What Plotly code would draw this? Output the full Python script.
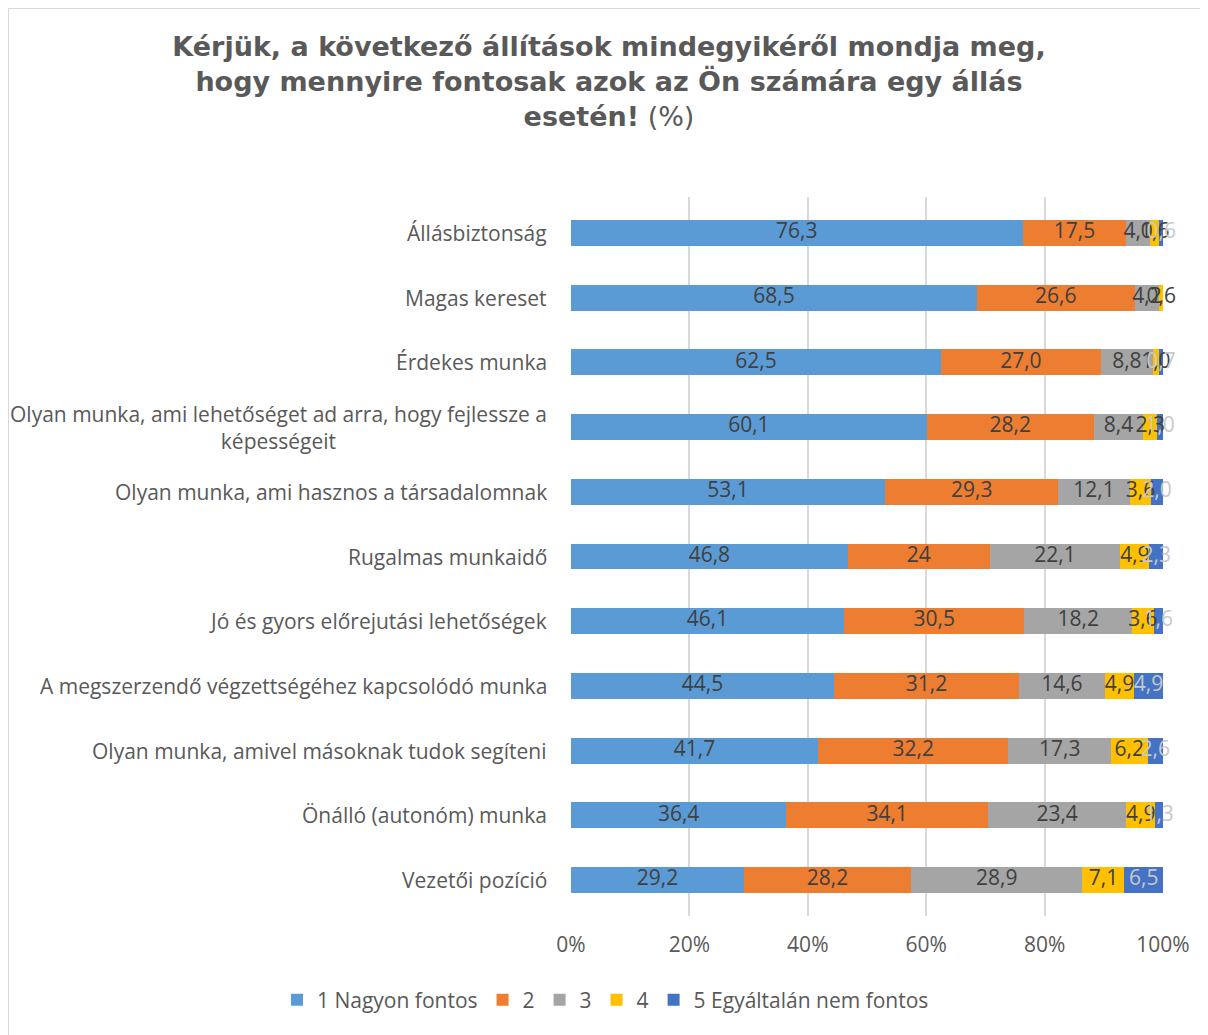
import numpy as np
import plotly.graph_objects as go

categories = [
    "Állásbiztonság",
    "Magas kereset",
    "Érdekes munka",
    "Olyan munka, ami lehetőséget ad arra, hogy fejlessze a<br>képességeit",
    "Olyan munka, ami hasznos a társadalomnak",
    "Rugalmas munkaidő",
    "Jó és gyors előrejutási lehetőségek",
    "A megszerzendő végzettségéhez kapcsolódó munka",
    "Olyan munka, amivel másoknak tudok segíteni",
    "Önálló (autonóm) munka",
    "Vezetői pozíció",
]
series_names = ["1 Nagyon fontos", "2", "3", "4", "5 Egyáltalán nem fontos"]
s1 = [76.3, 68.5, 62.5, 60.1, 53.1, 46.8, 46.1, 44.5, 41.7, 36.4, 29.2]
s2 = [17.5, 26.6, 27.0, 28.2, 29.3, 24.0, 30.5, 31.2, 32.2, 34.1, 28.2]
s3 = [4.0, 4.2, 8.8, 8.4, 12.1, 22.1, 18.2, 14.6, 17.3, 23.4, 28.9]
s4 = [1.6, 0.6, 1.0, 2.3, 3.6, 4.9, 3.6, 4.9, 6.2, 4.9, 7.1]
s5 = [0.6, 0.0, 0.7, 1.0, 2.0, 2.3, 1.6, 4.9, 2.6, 1.3, 6.5]
tick_vals = [0, 20, 40, 60, 80, 100]
tick_text = ["0%", "20%", "40%", "60%", "80%", "100%"]

colors = ["#5B9BD5", "#ED7D31", "#A5A5A5", "#FFC000", "#4472C4"]
label_colors = ["#404040", "#404040", "#404040", "#404040", "#C8C8C8"]
FONT = "Open Sans"
FS = 21

def fmt(v, name_idx, cat_idx):
    if v == 0:
        return ""
    if name_idx == 1 and cat_idx == 5:
        return "24"
    return f"{v:.1f}".replace(".", ",")

W, H = 1200, 1027
L, R, T, B = 563, 45, 189, 119
PW, PH = W - L - R, H - T - B

all_series = [s1, s2, s3, s4, s5]
arr = np.array(all_series, dtype=float)
pct = arr / arr.sum(axis=0) * 100
ends = np.cumsum(pct, axis=0)
mids = ends - pct / 2

fig = go.Figure()
for i, (name, vals) in enumerate(zip(series_names, all_series)):
    fig.add_trace(go.Bar(
        y=categories, x=vals, name=name, orientation="h",
        marker=dict(color=colors[i], line=dict(width=0)),
        hoverinfo="skip",
    ))
for i, vals in enumerate(all_series):
    fig.add_trace(go.Scatter(
        y=categories, x=mids[i], mode="text",
        text=[fmt(v, i, j) for j, v in enumerate(vals)],
        textposition="middle center",
        textfont=dict(family=FONT, size=FS, color=label_colors[i]),
        showlegend=False, hoverinfo="skip", cliponaxis=False,
    ))

for c in categories:
    fig.add_annotation(
        x=0, xref="paper", xanchor="right", xshift=-22,
        y=c, yref="y", yanchor="middle",
        text=c, showarrow=False, align="center",
        font=dict(family=FONT, size=FS, color="#595959"),
    )

fig.update_layout(
    barmode="stack", barnorm="percent", bargap=0.6,
    width=W, height=H,
    margin=dict(l=L, r=R, t=T, b=B),
    paper_bgcolor="white", plot_bgcolor="white",
    title=dict(
        text="<b>Kérjük, a következő állítások mindegyikéről mondja meg,<br>hogy mennyire fontosak azok az Ön számára egy állás<br>esetén!</b> (%)",
        x=601 / W, xanchor="center", xref="container", y=1 - 48 / H, yanchor="top", yref="container",
        font=dict(family="DejaVu Sans", size=27, color="#595959"),
    ),
    legend=dict(
        orientation="h", x=(269 - L) / PW, xref="paper", xanchor="left",
        y=-(992 - (T + PH)) / PH, yref="paper", yanchor="middle",
        font=dict(family=FONT, size=FS, color="#595959"),
        traceorder="normal", itemwidth=30,
    ),
    shapes=[dict(type="rect", xref="paper", yref="paper",
                 x0=-L / PW, x1=(1198 - L) / PW, y0=-(1060 - (T + PH)) / PH, y1=1 + T / PH,
                 line=dict(color="#D9D9D9", width=2), fillcolor="rgba(0,0,0,0)", layer="below")],
)
fig.update_xaxes(
    range=[0, 100], tickvals=tick_vals, ticktext=tick_text,
    showgrid=True, gridcolor="#D9D9D9", gridwidth=1.5,
    zeroline=False, showline=False, ticks="",
    tickfont=dict(family=FONT, size=FS, color="#595959"),
    ticklabelstandoff=14,
)
fig.update_yaxes(
    autorange="reversed", showticklabels=False, showgrid=False,
    zeroline=False, showline=False, ticks="",
)

fig.write_html("out.html")
